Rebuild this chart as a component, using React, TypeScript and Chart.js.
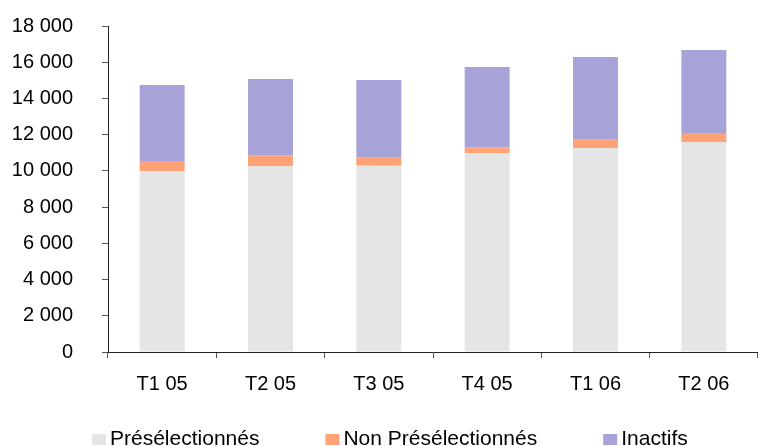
import React, { useEffect, useRef } from "react";
import { Chart, registerables, Plugin } from "chart.js";

Chart.register(...registerables);

// Quarterly stock, split by status
const quarters = ["T1 05", "T2 05", "T3 05", "T4 05", "T1 06", "T2 06"];
const preselectionnes = [10000, 10260, 10280, 10980, 11270, 11590];
const nonPreselectionnes = [540, 610, 440, 330, 450, 500];
const inactifs = [4200, 4200, 4300, 4420, 4570, 4585];

const seriesLabels = ["Présélectionnés", "Non Présélectionnés", "Inactifs"];
const seriesColors = ["#E5E5E5", "#FFA275", "#A7A3D8"];

const yTickMax = 18000;
const yTickStep = 2000;

const FONT = "'Liberation Sans', Arial, sans-serif";

const formatThousands = (v: number) =>
  String(Math.round(v)).replace(/\B(?=(\d{3})+(?!\d))/g, " ");

// Legend drawn along the bottom edge: square swatch followed by its label
const bottomLegend: Plugin<"bar"> = {
  id: "bottomLegend",
  afterDraw(chart) {
    const ctx = chart.ctx;
    const fontSize = 21;
    const boxW = 14;
    const boxH = 11;
    const textGap = 4;
    const itemGap = 66;
    const baseline = 445;
    let x = 92;
    ctx.save();
    ctx.font = `${fontSize}px ${FONT}`;
    ctx.textBaseline = "alphabetic";
    ctx.textAlign = "left";
    chart.data.datasets.forEach((ds) => {
      ctx.fillStyle = ds.backgroundColor as string;
      ctx.fillRect(x, baseline - boxH, boxW, boxH);
      x += boxW + textGap;
      ctx.fillStyle = "#000";
      const label = ds.label ?? "";
      ctx.fillText(label, x, baseline);
      x += ctx.measureText(label).width + itemGap;
    });
    ctx.restore();
  },
};

export default function App() {
  const canvasRef = useRef<HTMLCanvasElement | null>(null);

  useEffect(() => {
    document.body.style.margin = "0";
    const canvas = canvasRef.current;
    if (!canvas) return;
    const series = [preselectionnes, nonPreselectionnes, inactifs];
    const chart = new Chart(canvas, {
      type: "bar",
      data: {
        labels: quarters,
        datasets: series.map((data, i) => ({
          label: seriesLabels[i],
          data,
          backgroundColor: seriesColors[i],
          borderWidth: 0,
          categoryPercentage: 1,
          barPercentage: 0.415,
        })),
      },
      options: {
        responsive: false,
        animation: false,
        devicePixelRatio: 1,
        layout: { padding: { top: 26, right: 0, bottom: 54, left: 0 } },
        plugins: {
          legend: { display: false },
          tooltip: { enabled: false },
        },
        scales: {
          x: {
            stacked: true,
            grid: {
              offset: true,
              drawOnChartArea: false,
              drawTicks: true,
              tickLength: 6,
              color: "#555",
            },
            border: { display: true, color: "#222", width: 1 },
            ticks: {
              color: "#000",
              padding: 14,
              maxRotation: 0,
              font: { family: FONT, size: 20 },
            },
            afterFit(scale) {
              scale.height = 40;
              scale.paddingLeft = 0;
              scale.paddingRight = 0;
            },
          },
          y: {
            stacked: true,
            min: 0,
            max: yTickMax,
            grid: {
              drawOnChartArea: false,
              drawTicks: true,
              tickLength: 6,
              color: "#555",
            },
            border: { display: true, color: "#222", width: 1 },
            ticks: {
              stepSize: yTickStep,
              color: "#000",
              padding: 29,
              font: { family: FONT, size: 20 },
              callback: (v) => formatThousands(Number(v)),
            },
            afterFit(scale) {
              scale.width = 108;
              scale.paddingTop = 0;
              scale.paddingBottom = 0;
            },
          },
        },
      },
      plugins: [bottomLegend],
    });
    return () => chart.destroy();
  }, []);

  return (
    <div style={{ position: "absolute", left: 0, top: 0, width: 758, height: 446, background: "#fff" }}>
      <canvas ref={canvasRef} width={758} height={446} />
    </div>
  );
}
